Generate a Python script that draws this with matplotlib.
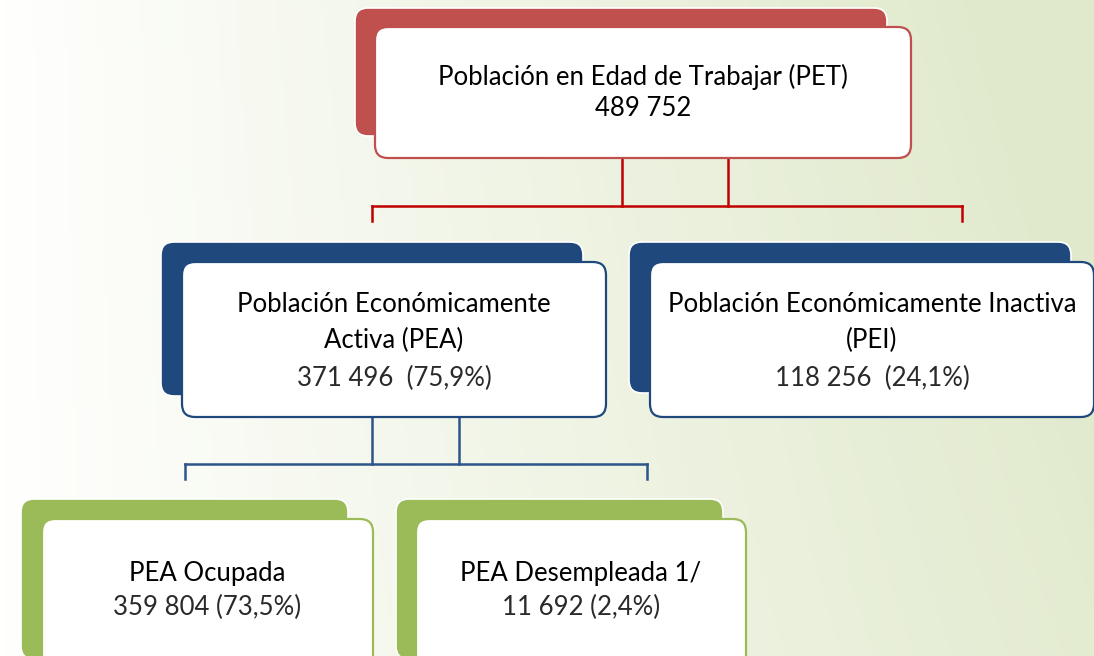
import numpy as np
import matplotlib.pyplot as plt
from matplotlib.patches import FancyBboxPatch

plt.rcParams['font.family'] = ['Lato', 'DejaVu Sans']

# chart data
titles = ['Población en Edad de Trabajar (PET)',
          'Población Económicamente\nActiva (PEA)',
          'Población Económicamente Inactiva\n(PEI)',
          'PEA Ocupada',
          'PEA Desempleada 1/']
values = [489752, 371496, 118256, 359804, 11692]
shares = [None, 75.9, 24.1, 73.5, 2.4]
levels = [0, 1, 1, 2, 2]

# layout in pixels: (back x0, back y0, back w, back h, front x0, front y0, front w, front h)
boxes = [
    (355, 8, 532, 128, 375, 27, 536, 131),
    (161, 242, 422, 154, 182, 262, 424, 155),
    (629, 242, 442, 151, 650, 262, 444, 155),
    (21, 499, 327, 160, 42, 519, 331, 160),
    (396, 499, 327, 160, 416, 519, 330, 160),
]
level_colors = ['#C0504D', '#1F497D', '#9BBB59']
line_colors = ['#C00000', '#2C5589']


def fmt_num(v):
    return f'{v:,}'.replace(',', ' ')


W, H = 1094, 656
fig = plt.figure(figsize=(W / 100, H / 100), dpi=100)
ax = fig.add_axes([0, 0, 1, 1])
ax.set_xlim(0, W)
ax.set_ylim(H, 0)
ax.axis('off')

# background gradient
gx = np.linspace(0, 1, 300)[None, :]
gy = np.linspace(0, 1, 200)[:, None]
t = np.clip(0.85 * gx + 0.25 * gx * (1 - gy) + 0.05 * gy * gx, 0, 1)
c0 = np.array([1.0, 1.0, 0.995])
c1 = np.array([0.88, 0.915, 0.80])
bg = c0[None, None, :] * (1 - t[..., None]) + c1[None, None, :] * t[..., None]
ax.imshow(bg, extent=[0, W, H, 0], aspect='auto', zorder=0)

for i, (bx, by, bw, bh, fx, fy, fw, fh) in enumerate(boxes):
    col = level_colors[levels[i]]
    ax.add_patch(FancyBboxPatch((bx, by), bw, bh, boxstyle='round,pad=0,rounding_size=13',
                                fc=col, ec='white', lw=1.2, zorder=2))
    ax.add_patch(FancyBboxPatch((fx, fy), fw, fh, boxstyle='round,pad=0,rounding_size=13',
                                fc='white', ec=col, lw=1.6, zorder=3))

# connectors
def connector(x_pair, y_top, y_mid, x_left, x_right, y_tick, color):
    for x in x_pair:
        ax.plot([x, x], [y_top, y_mid], color=color, lw=1.8, zorder=1)
    ax.plot([x_left, x_right], [y_mid, y_mid], color=color, lw=1.8, zorder=1)
    for x in (x_left, x_right):
        ax.plot([x, x], [y_mid, y_tick], color=color, lw=1.8, zorder=1)

connector((622, 728), 158, 206, 372, 962, 221, line_colors[0])
connector((372, 459), 417, 464, 185, 647, 479, line_colors[1])

# texts
text_pos = [
    (643, [77, 108]),
    (394, [305, 340, 378]),
    (872, [305, 340, 378]),
    (207, [573, 607]),
    (581, [573, 607]),
]
for i, (cx, ys) in enumerate(text_pos):
    lines = titles[i].split('\n')
    if shares[i] is None:
        num = fmt_num(values[i])
        num_c = 'black'
    else:
        sep = '  ' if levels[i] == 1 else ' '
        num = f'{fmt_num(values[i])}{sep}({str(shares[i]).replace(".", ",")}%)'
        num_c = '#2a2a2a'
    for ln, y in zip(lines, ys):
        ax.text(cx, y, ln, ha='center', va='center', fontsize=18.5, color='black', zorder=4)
    ax.text(cx, ys[len(lines)], num, ha='center', va='center', fontsize=18.5,
            color=num_c, zorder=4)

fig.savefig('out.png', dpi=100)
